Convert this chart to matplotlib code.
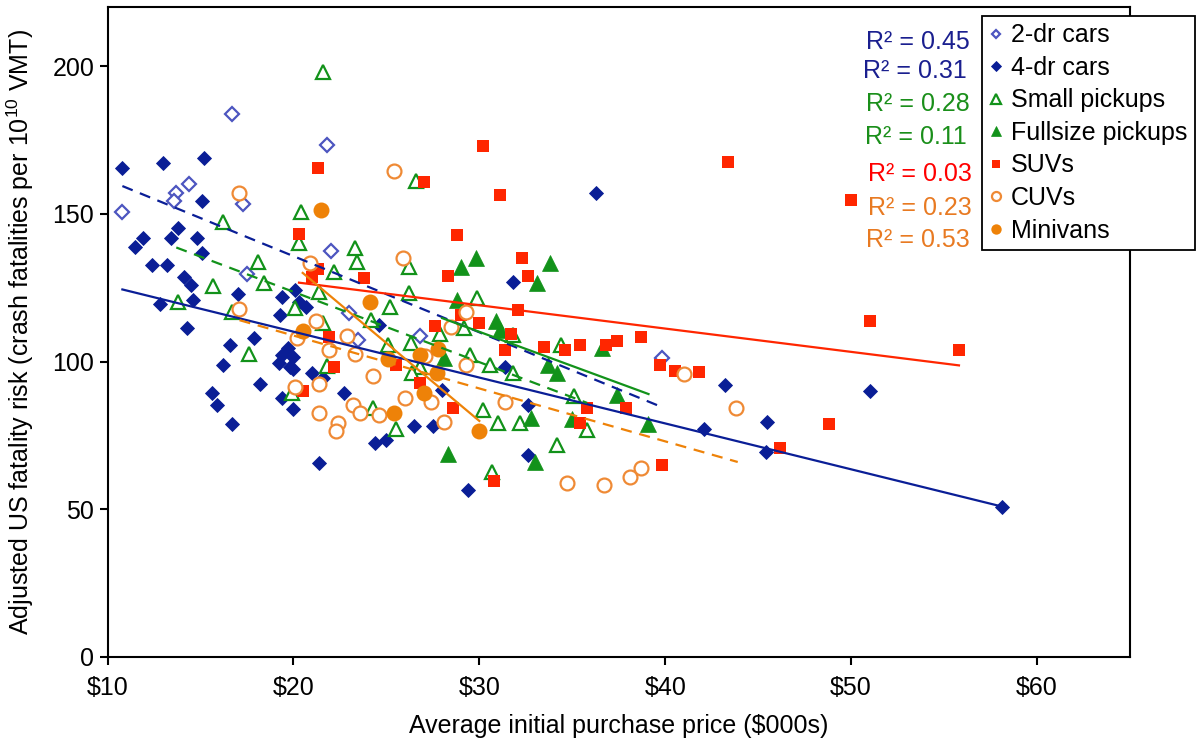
import matplotlib
matplotlib.use('Agg')
import matplotlib.pyplot as plt

plt.rcParams['font.family'] = ['Liberation Sans', 'DejaVu Sans']
plt.rcParams['mathtext.fontset'] = 'custom'
plt.rcParams['mathtext.rm'] = 'Liberation Sans'
plt.rcParams['mathtext.default'] = 'regular'

# --- data (price in $000s, fatality risk) ---
twodr_x = [10.8, 16.7, 21.8, 13.7, 13.6, 14.4, 17.3, 22.0, 17.5, 23.0, 23.5, 26.8, 39.8]
twodr_y = [150.6, 183.8, 173.2, 157.1, 154.3, 160.1, 153.2, 137.5, 129.5, 116.5, 107.3, 108.6, 101.1]

fourdr_x = [10.8, 13.0, 15.2, 15.1, 13.8, 11.9, 13.4, 14.8, 11.5, 15.1, 12.4, 13.2, 14.1, 14.5,
            17.0, 12.8, 14.6, 19.4, 20.3, 20.7, 20.1, 19.3, 14.3, 17.9, 16.6, 19.7, 19.4, 20.0,
            19.8, 19.2, 20.0, 16.2, 21.0, 21.6, 18.2, 15.6, 15.9, 19.4, 20.0, 16.7, 22.7, 24.6,
            24.4, 25.0, 26.5, 27.5, 28.0, 31.4, 32.6, 32.6, 29.4, 21.4, 31.8, 36.3, 43.2, 42.1,
            45.5, 45.4, 51.0, 58.1]
fourdr_y = [165.6, 167.1, 168.9, 154.3, 145.1, 141.7, 141.7, 141.7, 138.9, 136.6, 132.7, 132.7,
            128.7, 125.9, 122.8, 119.5, 120.8, 121.9, 120.2, 118.5, 124.2, 115.7, 111.4, 107.9,
            105.6, 104.5, 102.2, 101.6, 98.2, 99.4, 97.4, 98.8, 96.0, 94.3, 92.3, 89.4, 85.3,
            87.5, 83.8, 78.8, 89.4, 112.4, 72.3, 73.4, 78.3, 78.3, 90.4, 98.0, 85.3, 68.4, 56.5,
            65.7, 127.0, 156.9, 92.0, 77.2, 79.4, 69.5, 90.0, 50.9]

smallpu_x = [21.6, 16.2, 20.4, 26.6, 20.3, 23.3, 23.4, 18.1, 15.7, 18.4, 22.2, 26.2, 21.4, 13.8,
             16.7, 20.1, 25.2, 26.2, 29.9, 24.2, 21.6, 17.6, 25.1, 26.3, 27.9, 29.2, 29.5, 26.8,
             21.8, 30.6, 31.8, 31.8, 34.4, 26.4, 19.9, 24.3, 25.5, 30.2, 31.0, 32.2, 35.1, 35.8,
             34.2, 30.7]
smallpu_y = [198.0, 147.3, 150.5, 161.2, 140.0, 138.6, 133.8, 133.8, 125.6, 126.7, 130.4, 132.1,
             123.6, 120.2, 116.9, 118.0, 118.5, 123.1, 121.4, 114.0, 112.9, 102.5, 105.6, 106.2,
             109.2, 111.2, 102.2, 98.2, 98.5, 98.8, 96.0, 109.0, 105.6, 96.0, 89.2, 84.2, 77.1,
             83.6, 79.3, 79.3, 88.3, 76.8, 71.7, 62.7]

fullpu_x = [29.0, 29.8, 33.8, 33.1, 28.8, 30.9, 31.1, 36.6, 33.7, 34.2, 37.4, 28.1, 32.8, 35.0,
            39.1, 28.3, 33.0]
fullpu_y = [132.1, 134.9, 133.2, 126.5, 120.8, 113.8, 110.7, 104.5, 98.8, 96.0, 88.7, 101.1, 80.8,
            80.4, 78.8, 68.7, 66.1]

suv_x = [21.3, 20.3, 27.0, 30.2, 31.1, 43.4, 50.0, 28.8, 32.3, 32.6, 21.3, 21.0, 23.8, 28.3, 32.1,
         27.6, 30.0, 31.7, 31.4, 33.5, 34.6, 35.4, 36.8, 37.4, 38.7, 39.7, 40.5, 41.8, 51.0, 55.8,
         46.2, 48.8, 39.8, 35.8, 37.9, 35.4, 28.6, 30.8, 21.9, 22.2, 20.5, 25.5, 26.8, 29.0]
suv_y = [165.5, 143.1, 160.8, 172.9, 156.3, 167.5, 154.7, 142.8, 135.1, 128.9, 131.2, 128.5, 128.2,
         128.9, 117.4, 112.0, 113.1, 109.3, 103.9, 105.0, 103.9, 105.6, 105.6, 107.0, 108.4, 98.8,
         96.8, 96.5, 113.7, 103.9, 70.8, 78.8, 65.0, 84.2, 84.2, 79.1, 84.2, 59.7, 108.2, 98.2,
         90.0, 98.8, 92.8, 115.7]

cuv_x = [17.1, 25.4, 25.9, 20.9, 17.1, 29.3, 28.5, 21.2, 20.2, 22.9, 21.9, 23.3, 27.1, 29.3, 21.4,
         24.3, 20.1, 23.2, 23.6, 24.6, 26.0, 27.4, 21.4, 22.4, 22.3, 28.1, 31.4, 34.7, 36.7, 38.1,
         38.7, 41.0, 43.8]
cuv_y = [156.9, 164.5, 134.9, 133.2, 117.7, 116.9, 111.8, 113.8, 107.9, 108.6, 103.9, 102.5, 101.9,
         98.8, 92.4, 95.2, 91.5, 85.3, 82.7, 81.9, 87.7, 86.4, 82.7, 79.1, 76.5, 79.6, 86.4, 58.8,
         58.2, 60.8, 63.9, 95.8, 84.4]

minivan_x = [21.5, 24.1, 20.5, 25.1, 26.8, 27.8, 27.7, 27.0, 25.4, 30.0]
minivan_y = [151.3, 120.2, 110.4, 100.7, 102.2, 104.1, 96.2, 89.4, 82.7, 76.5]

# linear trend lines: (x start, x end), (y start, y end)
fit_twodr = ([10.8, 39.7], [159.4, 84.9])
fit_fourdr = ([10.8, 58.0], [124.4, 51.1])
fit_smallpu = ([13.7, 35.8], [138.6, 86.0])
fit_fullpu = ([28.0, 39.1], [114.7, 89.0])
fit_suv = ([20.3, 55.8], [126.7, 98.7])
fit_cuv = ([17.1, 43.9], [114.0, 66.0])
fit_minivan = ([20.5, 30.0], [130.0, 79.9])

r2_labels = ['R² = 0.45', 'R² = 0.31', 'R² = 0.28', 'R² = 0.11', 'R² = 0.03', 'R² = 0.23', 'R² = 0.53']

xticks = [10, 20, 30, 40, 50, 60]
xtick_labels = ['\\$10', '\\$20', '\\$30', '\\$40', '\\$50', '\\$60']
yticks = [0, 50, 100, 150, 200]

navy = '#0a1e96'
navy_light = '#4d55c0'
green = '#12921a'
red = '#ff2600'
orange_open = '#ef8a35'
orange = '#ee8208'

fig = plt.figure(figsize=(11.98, 7.44), dpi=100)
ax = fig.add_axes([107.5 / 1198, 87 / 744, (1130 - 107.5) / 1198, 650 / 744])

ax.plot(twodr_x, twodr_y, ls='none', marker='D', ms=7, mfc='white', mec=navy_light, mew=1.6,
        label='2-dr cars', zorder=3)
ax.plot(fourdr_x, fourdr_y, ls='none', marker='D', ms=7.6, mfc=navy, mec=navy, mew=0.6,
        label='4-dr cars', zorder=3)
ax.plot(smallpu_x, smallpu_y, ls='none', marker='^', ms=10, mfc='white', mec=green, mew=1.6,
        label='Small pickups', zorder=3)
ax.plot(fullpu_x, fullpu_y, ls='none', marker='^', ms=11, mfc=green, mec=green, mew=0.5,
        label='Fullsize pickups', zorder=3)
ax.plot(suv_x, suv_y, ls='none', marker='s', ms=8.5, mfc=red, mec=red, mew=0,
        label='SUVs', zorder=3)
ax.plot(cuv_x, cuv_y, ls='none', marker='o', ms=10, mfc='white', mec=orange_open, mew=1.6,
        label='CUVs', zorder=3)
ax.plot(minivan_x, minivan_y, ls='none', marker='o', ms=11.5, mfc=orange, mec=orange, mew=0,
        label='Minivans', zorder=3)

ax.plot(*fit_twodr, color=navy, lw=1.6, dashes=(5, 3.5), zorder=4)
ax.plot(*fit_fourdr, color=navy, lw=1.6, zorder=4)
ax.plot(*fit_smallpu, color=green, lw=1.6, dashes=(5, 3.5), zorder=4)
ax.plot(*fit_fullpu, color=green, lw=1.6, zorder=4)
ax.plot(*fit_suv, color=red, lw=1.6, zorder=4)
ax.plot(*fit_cuv, color=orange, lw=1.6, dashes=(5, 3.5), zorder=4)
ax.plot(*fit_minivan, color=orange, lw=1.6, zorder=4)

ax.set_xlim(10, 65)
ax.set_ylim(0, 220)
ax.set_xticks(xticks, xtick_labels)
ax.set_yticks(yticks)
ax.tick_params(direction='out', length=6, width=1.5, labelsize=18, colors='black')
ax.tick_params(axis='x', pad=8)
for sp in ax.spines.values():
    sp.set_linewidth(1.5)

ax.set_xlabel('Average initial purchase price (\\$000s)', fontsize=18, labelpad=10)
ax.set_ylabel('Adjusted US fatality risk (crash fatalities per 10$^{10}$ VMT)', fontsize=18,
              labelpad=12)

leg = ax.legend(loc='upper left', bbox_to_anchor=(982 / 1198, 1 - 16 / 744),
                bbox_transform=fig.transFigure, fontsize=18, markerscale=0.65,
                frameon=True, fancybox=False, framealpha=1, edgecolor='black',
                borderpad=0.3, labelspacing=0.34, handlelength=0.55, handletextpad=0.3,
                borderaxespad=0)
leg.get_frame().set_linewidth(1.3)
leg.set_zorder(10)

r2_colors = ['#1a1f8f', '#1a1f8f', '#1a8f1a', '#1a8f1a', '#ff0000', '#e87a22', '#e87a22']
r2_right = [970, 967, 970, 967, 972, 972, 970]
r2_base = [49, 78, 111, 144, 181, 215, 247]
for lab, c, xr, yb in zip(r2_labels, r2_colors, r2_right, r2_base):
    fig.text(xr / 1198, 1 - yb / 744, lab, color=c, fontsize=18, ha='right', va='baseline')

fig.savefig('out.png', dpi=100)
